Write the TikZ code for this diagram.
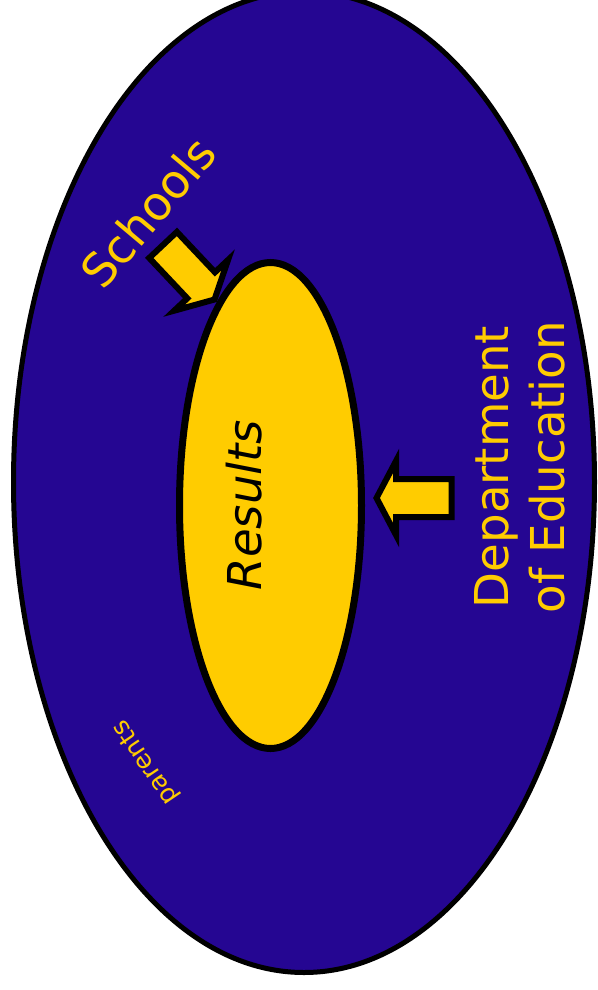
\documentclass[tikz,border=0pt]{standalone}
\usepackage{fontspec}
\setmainfont{DejaVu Sans}
\usetikzlibrary{shapes.geometric}
\definecolor{deepblue}{RGB}{37,6,146}
\definecolor{gold}{RGB}{255,204,0}
\tikzset{
  outerring/.style={ellipse, draw=black, line width=3.75pt, fill=deepblue, inner sep=0pt},
  innerring/.style={ellipse, draw=black, line width=5.25pt, fill=gold, inner sep=0pt},
  arrowbody/.style={draw=black, line width=4.5pt, fill=gold, line join=miter},
  lbl/.style={text=gold, inner sep=0pt, font=\fontsize{35}{42}\selectfont},
  blockarrow/.pic={
    \draw[arrowbody] (0,0) -- (-19.5,37) -- (-19.5,19) -- (-75,19) -- (-75,-19)
      -- (-19.5,-19) -- (-19.5,-37) -- cycle;
  }
}
\begin{document}
\begin{tikzpicture}[x=0.75pt,y=-0.75pt]
  \useasboundingbox (0,0) rectangle (598,990);
  \node[outerring, minimum width=435.75pt, minimum height=735.75pt] (outer) at (304,482) {};
  \node[innerring, minimum width=136.5pt, minimum height=364.5pt] (inner) at (270.5,505.5) {};
  \pic[rotate=-46.7] at (214.5,299.5) {blockarrow};
  \pic[rotate=180] at (376.5,498) {blockarrow};
  \node[lbl, rotate=50] (schools) at (148,212) {Schools};
  \node[rotate=90, inner sep=0pt, text=black, font=\fontsize{35}{42}\selectfont\itshape] (results) at (244,505) {Results};
  \node[lbl, rotate=90, align=center] (dept) at (519.5,467) {Department\\of Education};
  \node[lbl, rotate=124, font=\fontsize{19}{23}\selectfont] (parents) at (146,762) {parents};
\end{tikzpicture}
\end{document}
